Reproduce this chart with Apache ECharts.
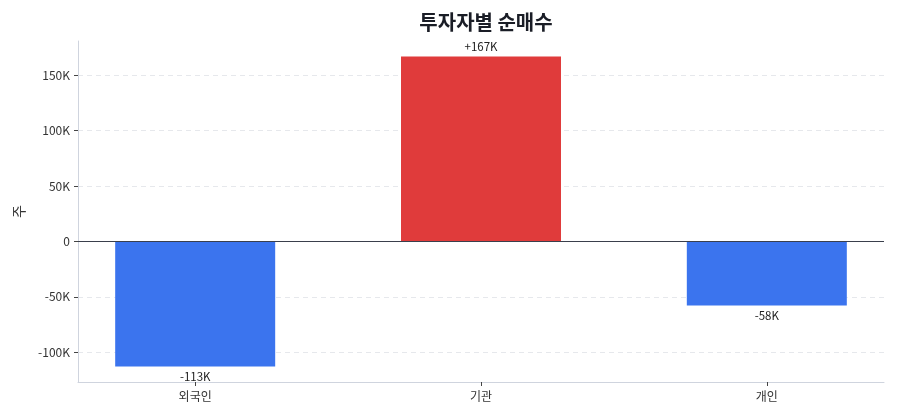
<!DOCTYPE html>
<html><head><meta charset="utf-8">
<script src="https://cdn.jsdelivr.net/npm/echarts@6/dist/echarts.min.js"></script>
<style>html,body{margin:0;padding:0;background:#fff}#c{width:900px;height:420px}</style>
</head><body><div id="c"></div>
<script>
const categories = ['외국인', '기관', '개인'];
const values = [-113000, 167000, -58000];
const yTicks = [-100000, -50000, 0, 50000, 100000, 150000];
const colors = ['#3B74EE', '#E03B3B', '#3B74EE'];

const FONT = '"Noto Sans CJK KR", "Noto Sans", sans-serif';
const fmtK = v => (v === 0 ? '0' : (v / 1000) + 'K');
const fmtSigned = v => (v > 0 ? '+' : '-') + Math.round(Math.abs(v) / 1000) + 'K';

const chart = echarts.init(document.getElementById('c'));
chart.setOption({
  animation: false,
  backgroundColor: '#fff',
  textStyle: { fontFamily: FONT },
  title: {
    text: '투자자별 순매수', left: 481, top: 7, textAlign: 'center',
    textStyle: { fontFamily: FONT, fontSize: 20, fontWeight: 'bold', color: '#1a1d26' }
  },
  grid: { left: 78, right: 16, top: 41, bottom: 38 },
  xAxis: {
    type: 'value', min: -0.41, max: 2.41,
    axisLine: { show: true, onZero: false, lineStyle: { color: '#cfd4de', width: 1 } },
    axisTick: { show: true, customValues: categories.map((c, i) => i), length: 4, lineStyle: { color: '#444' } },
    axisLabel: { customValues: categories.map((c, i) => i), formatter: v => categories[Math.round(v)] || '', color: '#333', fontSize: 12, margin: 8, fontFamily: FONT },
    splitLine: { show: false }
  },
  yAxis: {
    type: 'value', min: -127000, max: 181000, interval: 50000,
    name: '주', nameLocation: 'middle', nameRotate: 90, nameGap: 52,
    nameTextStyle: { color: '#333', fontSize: 14, fontFamily: FONT },
    axisLine: { show: true, onZero: false, lineStyle: { color: '#cfd4de', width: 1 } },
    axisTick: { show: true, customValues: yTicks, length: 4, lineStyle: { color: '#444' } },
    axisLabel: { customValues: yTicks, formatter: fmtK, color: '#333', fontSize: 12, margin: 8, fontFamily: FONT },
    splitLine: { show: true, lineStyle: { color: '#e6e8ec', type: [5, 4], width: 1 } }
  },
  series: [{
    type: 'bar',
    barWidth: 160,
    data: values.map((v, i) => ({
      value: [i, v], itemStyle: { color: colors[i] },
      label: { position: v >= 0 ? 'top' : 'bottom' }
    })),
    label: {
      show: true,
      formatter: p => fmtSigned(p.value[1]),
      color: '#222', fontSize: 11.5, fontFamily: FONT, distance: 4
    },
    markLine: {
      silent: true, symbol: 'none', label: { show: false },
      lineStyle: { color: '#3a3f4c', width: 1.2, type: 'solid' },
      data: [{ yAxis: 0 }]
    }
  }]
});
</script></body></html>
